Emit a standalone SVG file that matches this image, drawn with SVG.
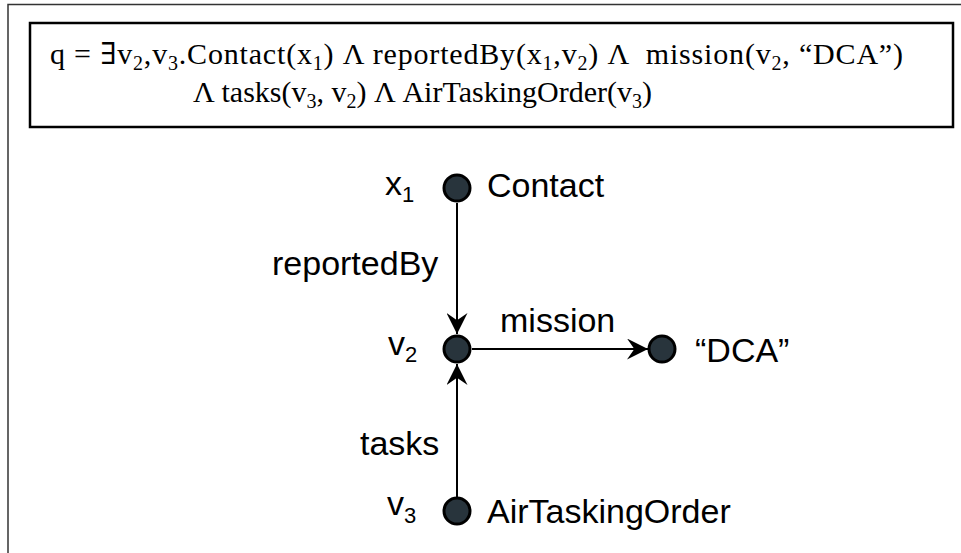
<svg xmlns="http://www.w3.org/2000/svg" width="961" height="553" viewBox="0 0 961 553">
  <style>
    .frame { fill: none; stroke: #333; stroke-width: 1.5; }
    .qbox { fill: #fff; stroke: #000; stroke-width: 2.5; }
    .formula { font-family: "Liberation Serif", "DejaVu Serif", serif; font-size: 30px; fill: #000; white-space: pre; }
    .sub { font-size: 20px; }
    .node { fill: #28343c; stroke: #000; stroke-width: 3; }
    .lbl { font-family: "Liberation Sans", Arial, sans-serif; font-size: 34px; fill: #000; }
    .idx { font-size: 22px; }
    .edge { stroke: #000; stroke-width: 2; fill: none; marker-end: url(#head); }
  </style>
  <defs>
    <marker id="head" viewBox="0 0 20 20" refX="20" refY="10" markerWidth="21" markerHeight="21" markerUnits="userSpaceOnUse" orient="auto">
      <path d="M0,0 L20,10 L0,20 L7,10 Z" fill="#000"/>
    </marker>
  </defs>

  <rect width="961" height="553" fill="#fff"/>

  <!-- outer frame (open to the right and bottom) -->
  <path class="frame" d="M8,553 V4.5 H961"/>

  <!-- query formula -->
  <g id="formula">
    <rect class="qbox" x="30" y="23" width="923" height="104"/>
    <text class="formula" x="50" y="64" textLength="853" lengthAdjust="spacing">q = ∃v<tspan class="sub" dy="6">2</tspan><tspan dy="-6">,v</tspan><tspan class="sub" dy="6">3</tspan><tspan dy="-6">.Contact(x</tspan><tspan class="sub" dy="6">1</tspan><tspan dy="-6">) Λ reportedBy(x</tspan><tspan class="sub" dy="6">1</tspan><tspan dy="-6">,v</tspan><tspan class="sub" dy="6">2</tspan><tspan dy="-6">) Λ  mission(v</tspan><tspan class="sub" dy="6">2</tspan><tspan dy="-6">, “DCA”)</tspan></text>
    <text class="formula" x="193" y="102">Λ tasks(v<tspan class="sub" dy="6">3</tspan><tspan dy="-6">, v</tspan><tspan class="sub" dy="6">2</tspan><tspan dy="-6">) Λ AirTaskingOrder(v</tspan><tspan class="sub" dy="6">3</tspan><tspan dy="-6">)</tspan></text>
  </g>

  <!-- connectors -->
  <g id="edges">
    <line class="edge" x1="457" y1="203" x2="457" y2="334"/>
    <line class="edge" x1="472" y1="349" x2="648" y2="349"/>
    <line class="edge" x1="457" y1="497" x2="457" y2="364"/>
    <text class="lbl" x="272" y="275">reportedBy</text>
    <text class="lbl" x="500" y="332">mission</text>
    <text class="lbl" x="360" y="455">tasks</text>
  </g>

  <!-- nodes -->
  <g id="node-x1">
    <circle class="node" cx="457" cy="188" r="13"/>
    <text class="lbl" x="385" y="195">x<tspan class="idx" dy="7">1</tspan></text>
    <text class="lbl" x="487" y="197">Contact</text>
  </g>
  <g id="node-v2">
    <circle class="node" cx="457" cy="349" r="13"/>
    <text class="lbl" x="388" y="355">v<tspan class="idx" dy="7">2</tspan></text>
  </g>
  <g id="node-dca">
    <circle class="node" cx="662" cy="349" r="13"/>
    <text class="lbl" x="695" y="362">“DCA”</text>
  </g>
  <g id="node-v3">
    <circle class="node" cx="457" cy="511" r="13"/>
    <text class="lbl" x="387" y="515">v<tspan class="idx" dy="8">3</tspan></text>
    <text class="lbl" x="487" y="523">AirTaskingOrder</text>
  </g>
</svg>
